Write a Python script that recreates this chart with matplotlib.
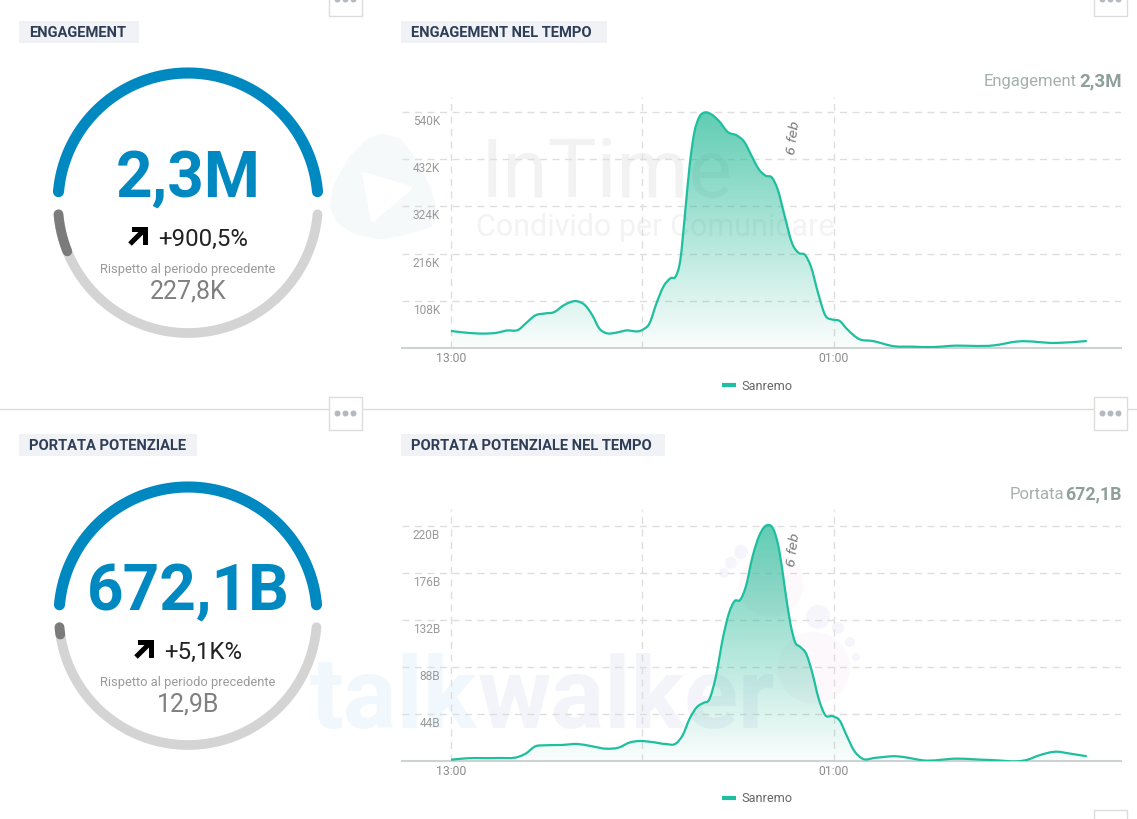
import numpy as np
from matplotlib import pyplot as plt
from matplotlib.lines import Line2D
from matplotlib.patches import Circle, PathPatch, Polygon, Rectangle
from matplotlib.path import Path

plt.rcParams['font.family'] = ['Roboto', 'DejaVu Sans']

W, H = 1137, 819

# engagement over time, hours after 13:00 / thousands
eng_hours = [0, .48, 1.0, 1.45, 1.74, 2.12, 2.34, 2.64, 2.94, 3.23, 3.53, 3.95, 4.2, 4.43, 4.65, 4.87,
             5.17, 5.47, 6.0, 6.22, 6.44, 6.66, 6.89, 7.04, 7.19, 7.33, 7.48, 7.63, 7.78, 7.96, 8.15,
             8.38, 8.68, 8.97, 9.2, 9.42, 9.65, 9.87, 10.06, 10.24, 10.46, 10.69, 10.91, 11.09, 11.28,
             11.51, 11.73, 11.96, 12.18, 12.4, 12.78, 13.22, 13.89, 14.49, 15.09, 15.68, 17.02, 17.77,
             18.96, 19.93]
eng_values = [39, 35, 33, 35, 40, 42, 56, 74.5, 79, 82, 97.5, 107, 98, 75, 44.5, 34,
              35, 40, 41.5, 56, 102, 140.5, 160, 163.5, 202, 302, 417, 494, 528, 539, 535,
              521, 494, 486, 471, 440, 409, 394, 390, 363, 302, 240, 217, 213.5, 187,
              125, 75, 65, 62, 44.5, 21, 16, 4, 3, 2, 5, 6, 15,
              11.5, 16]

# potential reach over time, hours after 13:00 / billions
reach_hours = [0, .48, 1.45, 2.12, 2.34, 2.64, 2.94, 3.46, 3.98, 4.43, 4.87, 5.25, 5.62, 5.92, 6.29,
               6.74, 7.04, 7.26, 7.48, 7.71, 7.93, 8.08, 8.3, 8.53, 8.71, 8.9, 9.05, 9.24, 9.45, 9.65,
               9.82, 9.96, 10.09, 10.29, 10.46, 10.64, 10.79, 10.94, 11.14, 11.33, 11.51, 11.73, 11.96,
               12.18, 12.4, 12.63, 12.9, 13.3, 13.97, 14.34, 14.79, 15.83, 16.87, 18.07, 18.44, 18.96,
               19.41, 19.93]
reach_values = [1.2, 2.5, 2.8, 4, 6.9, 13.7, 14.7, 15, 15.9, 13.7, 11.5, 12.5, 17.5, 18.7, 17.8,
                15.9, 16.2, 24, 39.6, 50.5, 54.6, 56.8, 78.6, 116, 138, 150, 150.4, 163, 191, 210,
                219, 221, 218, 197, 163, 128.5, 111, 107, 100, 82, 60, 43, 42,
                38, 24, 10, 2.2, 3, 4.4, 3, .6, 2.2, 1, 1.2, 5.3, 8.7,
                6.9, 4.4]

eng_yticks = [108, 216, 324, 432, 540]
eng_ylabels = ['108K', '216K', '324K', '432K', '540K']
reach_yticks = [44, 88, 132, 176, 220]
reach_ylabels = ['44B', '88B', '132B', '176B', '220B']
time_ticks = [0, 6, 12]
time_labels = ['13:00', '', '01:00']

TEAL = '#1dbf9f'
BLUE = '#0088c0'
NAVY = '#2f3e57'


def badge(ax, x0, x1, y0, y1, text):
    ax.add_patch(Rectangle((x0, y0), x1 - x0, y1 - y0, color='#f1f2f5', lw=0))
    ax.text(x0 + 10, (y0 + y1) / 2 + 1, text, color=NAVY, fontsize=10.65, fontweight='bold',
            va='center', ha='left')


def menu_button(ax, x, y):
    ax.add_patch(Rectangle((x, y), 33, 33, fc='white', ec='#dcdcdc', lw=1, zorder=3))
    for dx in (-8, 0, 8):
        ax.add_patch(Circle((x + 16.5 + dx, y + 16.5), 3, color='#b4b8bf', lw=0, zorder=4))


def gauge(ax, cx, cy, r, big, change, previous, ratio, big_y):
    t = np.radians(np.linspace(5, 175, 100))
    ax.plot(cx + r * np.cos(t), cy - r * np.sin(t), color=BLUE, lw=8, solid_capstyle='round')
    t = np.radians(np.linspace(185, 355, 100))
    ax.plot(cx + r * np.cos(t), cy - r * np.sin(t), color='#d4d4d4', lw=7, solid_capstyle='round')
    t = np.radians(np.linspace(185, 185 + 170 * ratio, 30))
    ax.plot(cx + r * np.cos(t), cy - r * np.sin(t), color='#7b7b7b', lw=7, solid_capstyle='round')

    ax.text(cx, big_y, big, color=BLUE, fontsize=46, fontweight='bold', ha='center', va='center_baseline')
    ax.text(cx + 15, cy + 34, change, color='#222222', fontsize=17.3, ha='center', va='center_baseline')
    ax.text(cx, cy + 65, 'Rispetto al periodo precedente', color='#9a9a9a', fontsize=9.3,
            ha='center', va='center_baseline')
    ax.text(cx, cy + 86, previous, color='#808080', fontsize=18, ha='center', va='center_baseline')


def up_arrow(ax, x, y):
    ax.plot([x + 2, x + 15], [y + 16, y + 3], color='black', lw=3.6, solid_capstyle='butt')
    ax.add_patch(Polygon([(x + 4, y - 1), (x + 20, y - 1), (x + 20, y + 17), (x + 15, y + 17),
                          (x + 15, y + 4), (x + 4, y + 4)], color='black', lw=0))


def smooth_path(hours, values):
    # bezier through the read points, only the pen between them is rounded
    x = np.array(hours, dtype=float)
    y = np.array(values, dtype=float)
    m = np.gradient(y, x)
    verts = [(x[0], y[0])]
    codes = [Path.MOVETO]
    for i in range(len(x) - 1):
        dx = x[i + 1] - x[i]
        verts += [(x[i] + dx / 3, y[i] + m[i] * dx / 3),
                  (x[i + 1] - dx / 3, y[i + 1] - m[i + 1] * dx / 3),
                  (x[i + 1], y[i + 1])]
        codes += [Path.CURVE4] * 3
    return verts, codes


def timeline(rect, hours, values, yticks, ylabels, y_per_px, name):
    # rect is left, right, bottom, top in image pixels
    left, right, bottom, top = rect
    ax = fig.add_axes([left / W, 1 - bottom / H, (right - left) / W, (bottom - top) / H])
    ax.patch.set_alpha(0)
    xlim = ((left - 451) / 31.9, (right - 451) / 31.9)
    ylim = (0, (bottom - top) * y_per_px)

    verts, codes = smooth_path(hours, values)

    # gradient under the curve
    grad = np.zeros((256, 2, 4))
    grad[..., :3] = [0.11, 0.72, 0.58]
    grad[..., 3] = np.linspace(.70, .02, 256)[:, None]
    im = ax.imshow(grad, extent=[*xlim, 0, max(values)], origin='upper', aspect='auto', zorder=1)
    area = Path(verts + [(hours[-1], 0), (hours[0], 0), verts[0]],
                codes + [Path.LINETO, Path.LINETO, Path.CLOSEPOLY])
    im.set_clip_path(area, transform=ax.transData)

    ax.add_patch(PathPatch(Path(verts, codes), fc='none', ec=TEAL, lw=1.6, zorder=3, joinstyle='round'))
    ax.set_xlim(*xlim)
    ax.set_ylim(*ylim)

    ax.set_yticks(yticks)
    ax.set_yticklabels([])
    ax.set_xticks(time_ticks)
    ax.set_xticklabels(time_labels, color='#8c8c8c', fontsize=8.8)
    ax.tick_params(length=0, pad=3)
    ax.grid(True, color='#dedede', lw=1, dashes=(5, 4))
    ax.set_axisbelow(True)
    for side in ('top', 'left', 'right'):
        ax.spines[side].set_visible(False)
    ax.spines['bottom'].set_color('#cfd2d2')
    ax.spines['bottom'].set_linewidth(1.5)

    for v, lab in zip(yticks, ylabels):
        ax.annotate(lab, (440, v), xycoords=('figure pixels', 'data'), xytext=(0, -5.8),
                    textcoords='offset points', color='#9a9a9a', fontsize=8.6, ha='right', va='center_baseline')

    ax.text(10.75, (bottom - top - 41) * y_per_px, '6 feb', rotation=83, fontsize=9.5, style='italic',
            family='DejaVu Sans', color='#777777', ha='center', va='center')

    ax.legend(handles=[Line2D([], [], color=TEAL, lw=3, label=name, solid_capstyle='butt')], loc='center',
              frameon=False, bbox_to_anchor=((757 - left) / (right - left), 1 - (bottom + 38 - top) / (bottom - top)),
              fontsize=9.2, handlelength=1.1, handletextpad=.45, labelcolor='#666666')
    return ax


fig = plt.figure(figsize=(W / 100, H / 100), dpi=100)
deco = fig.add_axes([0, 0, 1, 1])
deco.set_xlim(0, W)
deco.set_ylim(H, 0)
deco.axis('off')

# watermarks, they sit behind everything else
deco.add_patch(Polygon([(382, 135), (400, 140), (415, 160), (430, 190), (437, 215), (430, 226), (400, 235),
                        (380, 238), (355, 233), (338, 222), (331, 207), (335, 185), (350, 158), (368, 140)],
                       fc='#f5f9fa', ec='#f5f9fa', lw=2, joinstyle='round'))
deco.add_patch(Polygon([(364, 174), (410, 188), (373, 220)], fc='white', ec='white', lw=3, joinstyle='round'))
deco.text(481, 197, 'InTime', color='#f2f2f2', fontsize=59, va='baseline')
deco.text(476, 236, 'Condivido per Comunicare', color='#f3f3f3', fontsize=22, va='baseline')
deco.text(310, 728, 'talk', color='#f0f8fd', fontsize=72, fontweight='bold', va='baseline')
deco.text(478, 728, 'walker', color='#f3f4fa', fontsize=72, fontweight='bold', va='baseline')
for x, y, r, c in [(741, 552, 7, '#f5f5fb'), (731, 563, 6, '#f5f5fb'), (724, 573, 5, '#f5f5fb'),
                   (771, 585, 32, '#fdf8fb'), (818, 617, 12, '#f5f5fb'), (838, 628, 6, '#f5f5fb'),
                   (850, 642, 5, '#f5f5fb'), (856, 657, 4, '#f5f5fb'), (814, 668, 36, '#fdf8fb')]:
    deco.add_patch(Circle((x, y), r, color=c, lw=0))

deco.plot([0, W], [409, 409], color='#dddddd', lw=1)
for x, y in [(329, -17), (1094, -17), (329, 397), (1094, 397), (1094, 810)]:
    menu_button(deco, x, y)

badge(deco, 19, 139, 21, 43, 'ENGAGEMENT')
badge(deco, 401, 607, 21, 43, 'ENGAGEMENT NEL TEMPO')
badge(deco, 19, 197, 434, 456, 'PORTATA POTENZIALE')
badge(deco, 401, 665, 434, 456, 'PORTATA POTENZIALE NEL TEMPO')

gauge(deco, 188, 203, 130, '2,3M', '+900,5%', '227,8K', 227.8 / 2300, 173)
gauge(deco, 188, 616, 129, '672,1B', '+5,1K%', '12,9B', 12.9 / 672.1, 586)
up_arrow(deco, 128, 228)
up_arrow(deco, 134, 641)

deco.text(1077, 80, 'Engagement', color='#a5b0ad', fontsize=12, ha='right', va='center_baseline')
deco.text(1122, 79, '2,3M', color='#8fa09c', fontsize=13.5, fontweight='bold', ha='right', va='center_baseline')
deco.text(1064, 493, 'Portata', color='#a5b0ad', fontsize=12, ha='right', va='center_baseline')
deco.text(1122, 492, '672,1B', color='#8fa09c', fontsize=12.8, fontweight='bold', ha='right', va='center_baseline')

timeline((402, 1121, 348, 97), eng_hours, eng_values, eng_yticks, eng_ylabels, 540 / 236, 'Sanremo')
timeline((402, 1121, 761, 509), reach_hours, reach_values, reach_yticks, reach_ylabels, 220 / 235, 'Sanremo')

fig.savefig('out.png', dpi=100)
